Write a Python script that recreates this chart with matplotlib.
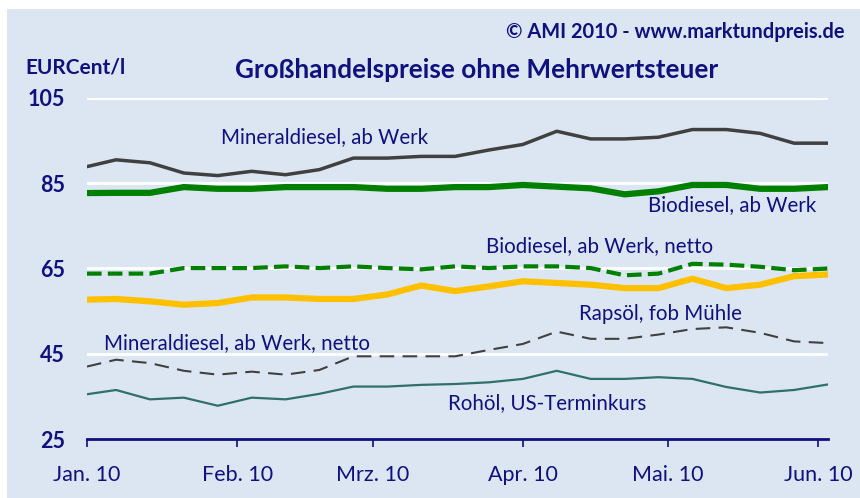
import matplotlib.pyplot as plt
from matplotlib.patches import Rectangle
from matplotlib import font_manager
import numpy as np

# days since 1 Jan 2010 (weekly quotes, Thursdays)
days = [0] + [6 + 7 * i for i in range(22)]

mineraldiesel = [88.9, 90.5, 89.8, 87.4, 86.8, 87.8, 87.0, 88.2, 90.9, 90.9, 91.3, 91.3,
                 92.8, 94.1, 97.2, 95.4, 95.4, 95.8, 97.6, 97.6, 96.7, 94.4, 94.4]
biodiesel = [82.7, 82.75, 82.75, 84.1, 83.7, 83.7, 84.1, 84.1, 84.1, 83.7, 83.7, 84.1,
             84.1, 84.6, 84.2, 83.8, 82.4, 83.1, 84.6, 84.6, 83.7, 83.7, 84.1]
biodiesel_netto = [63.8, 63.8, 63.8, 65.1, 65.1, 65.1, 65.5, 65.1, 65.5, 65.1, 64.8, 65.5,
                   65.1, 65.5, 65.5, 65.1, 63.4, 63.8, 66.1, 65.9, 65.4, 64.6, 65.0]
rapsoel = [57.7, 57.85, 57.3, 56.5, 56.9, 58.2, 58.2, 57.85, 57.85, 58.9, 61.0, 59.7,
           60.8, 62.0, 61.6, 61.2, 60.4, 60.4, 62.6, 60.4, 61.2, 63.2, 63.6]
mineraldiesel_netto = [42.0, 43.6, 42.8, 41.0, 40.1, 40.8, 40.1, 41.2, 44.4, 44.4, 44.4, 44.4,
                       45.9, 47.3, 50.2, 48.5, 48.5, 49.5, 50.8, 51.2, 49.9, 47.9, 47.5]
rohoel = [35.5, 36.5, 34.3, 34.7, 32.8, 34.7, 34.3, 35.6, 37.3, 37.3, 37.7, 37.9,
          38.3, 39.1, 41.0, 39.1, 39.1, 39.5, 39.1, 37.2, 35.9, 36.5, 37.8]

month_days = [0, 31, 59, 90, 120, 151]
month_labels = ['Jan. 10', 'Feb. 10', 'Mrz. 10', 'Apr. 10', 'Mai. 10', 'Jun. 10']
yticks = [25, 45, 65, 85, 105]

navy = '#10107e'
bg = '#dce6f2'

# pick a narrow font if one is around
installed = {f.name for f in font_manager.fontManager.ttflist}
fnt = [f for f in ['Liberation Sans Narrow', 'DejaVu Sans Condensed', 'Lato'] if f in installed]
fnt.append('DejaVu Sans')
plt.rcParams['font.family'] = fnt

fig = plt.figure(figsize=(8.6, 4.98), dpi=100)
fig.patches.append(Rectangle((7 / 860, 0), 1, 1 - 9 / 498, transform=fig.transFigure,
                             facecolor=bg, edgecolor='none', zorder=-10))
ax = fig.add_axes([87 / 860, 59 / 498, 741 / 860, 341 / 498])
ax.set_facecolor('none')

for y in yticks[1:]:
    ax.axhline(y, color='white', lw=2, zorder=1)

ax.plot(days, mineraldiesel, color='#404040', lw=2.5, zorder=3)
ax.plot(days, biodiesel, color='#008000', lw=4.5, zorder=3)
ax.plot(days, biodiesel_netto, color='#008000', lw=3, ls=(0, (3.5, 1.5)), zorder=3)
ax.plot(days, rapsoel, color='#ffc000', lw=4.5, zorder=3)
ax.plot(days, mineraldiesel_netto, color='#404040', lw=1.5, ls=(0, (7, 4)), zorder=3)
ax.plot(days, rohoel, color='#2f7068', lw=1.6, zorder=3)

ax.set_xlim(0, 153)
ax.set_ylim(25, 105)
for s in ['left', 'right', 'top']:
    ax.spines[s].set_visible(False)
ax.spines['bottom'].set_color(navy)
ax.spines['bottom'].set_linewidth(2)
ax.set_xticks(month_days, month_labels)
ax.set_yticks(yticks, [str(v) for v in yticks])
ax.tick_params(axis='x', colors=navy, length=6, width=1.2, labelsize=15.5, pad=13)
ax.tick_params(axis='y', length=0, colors=navy, labelsize=15.5, pad=16)
for lab in ax.get_yticklabels():
    lab.set_fontweight('bold')

labels = [
    ('Mineraldiesel, ab Werk', 325, 137),
    ('Biodiesel, ab Werk', 732, 205),
    ('Biodiesel, ab Werk, netto', 600, 246),
    ('Rapsöl, fob Mühle', 660, 314),
    ('Mineraldiesel, ab Werk, netto', 237, 343),
    ('Rohöl, US-Terminkurs', 547, 403),
]
for txt, x, y in labels:
    fig.text(x / 860, 1 - y / 498, txt, color=navy, fontsize=14.8, ha='center', va='center')

fig.text(477 / 860, 1 - 70 / 498, 'Großhandelspreise ohne Mehrwertsteuer', color=navy,
         fontsize=18.8, fontweight='bold', ha='center', va='center')
fig.text(25 / 860, 1 - 68 / 498, 'EURCent/l', color=navy, fontsize=15,
         fontweight='bold', ha='left', va='center')
fig.text(845 / 860, 1 - 32 / 498, '© AMI 2010 - www.marktundpreis.de', color=navy,
         fontsize=14.4, fontweight='bold', ha='right', va='center')

fig.savefig('out.png', dpi=100)
